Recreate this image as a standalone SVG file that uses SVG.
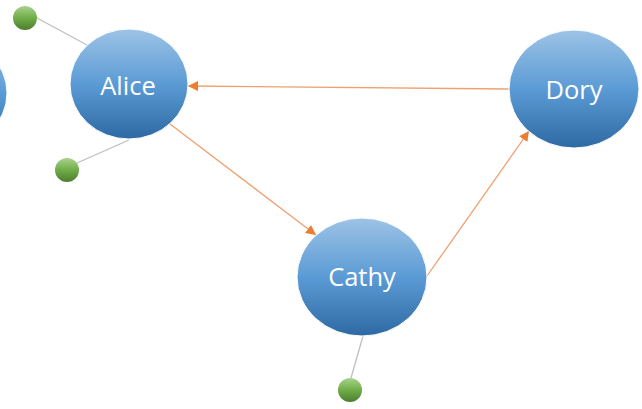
<svg xmlns="http://www.w3.org/2000/svg" width="642" height="409" viewBox="0 0 642 409">
  <defs>
    <linearGradient id="blueFill" x1="0" y1="0" x2="0" y2="1">
      <stop offset="0" stop-color="#9dc3e6"/>
      <stop offset="0.5" stop-color="#5b9bd5"/>
      <stop offset="1" stop-color="#2e69a3"/>
    </linearGradient>
    <linearGradient id="greenFill" x1="0" y1="0" x2="0" y2="1">
      <stop offset="0" stop-color="#a9d18e"/>
      <stop offset="0.5" stop-color="#70ad47"/>
      <stop offset="1" stop-color="#4e7d2f"/>
    </linearGradient>
    <marker id="arrow" viewBox="0 0 10 10" refX="10" refY="5" markerWidth="10" markerHeight="10" markerUnits="userSpaceOnUse" orient="auto">
      <path d="M0,0 L10,5 L0,10 z" fill="#ed7d31"/>
    </marker>
    <style>
      .node { fill: url(#blueFill); stroke: #ffffff; stroke-width: 1; }
      .leaf { fill: url(#greenFill); }
      .label { font-family: "Open Sans", "Liberation Sans", sans-serif; font-size: 25.5px; fill: #ffffff; text-anchor: middle; }
      .link { stroke: #bfbfbf; stroke-width: 1.3; fill: none; }
      .edge { stroke: #f0a070; stroke-width: 1.3; fill: none; marker-end: url(#arrow); }
    </style>
  </defs>

  <!-- connectors -->
  <g id="connectors">
    <line class="link" x1="37" y1="18" x2="87" y2="45"/>
    <line class="link" x1="77" y1="163" x2="129" y2="140"/>
    <line class="link" x1="363" y1="336" x2="351" y2="378"/>
    <line class="edge" x1="509" y1="89" x2="188" y2="86"/>
    <line class="edge" x1="170" y1="124" x2="316" y2="235"/>
    <line class="edge" x1="427" y1="276" x2="529" y2="131"/>
  </g>

  <!-- partially visible node at the left edge -->
  <g id="node-left">
    <ellipse class="node" cx="-52" cy="93" rx="59" ry="55"/>
  </g>

  <g id="node-alice">
    <ellipse class="node" cx="129" cy="84" rx="59" ry="55"/>
    <text class="label" x="128" y="95">Alice</text>
  </g>

  <g id="node-cathy">
    <ellipse class="node" cx="362" cy="277" rx="65" ry="59"/>
    <text class="label" x="362" y="286">Cathy</text>
  </g>

  <g id="node-dory">
    <ellipse class="node" cx="574" cy="89" rx="65" ry="59"/>
    <text class="label" x="574" y="99">Dory</text>
  </g>

  <g id="leaf-1"><circle class="leaf" cx="25" cy="18" r="12"/></g>
  <g id="leaf-2"><circle class="leaf" cx="67" cy="170" r="12"/></g>
  <g id="leaf-3"><circle class="leaf" cx="350" cy="390" r="12"/></g>
</svg>
